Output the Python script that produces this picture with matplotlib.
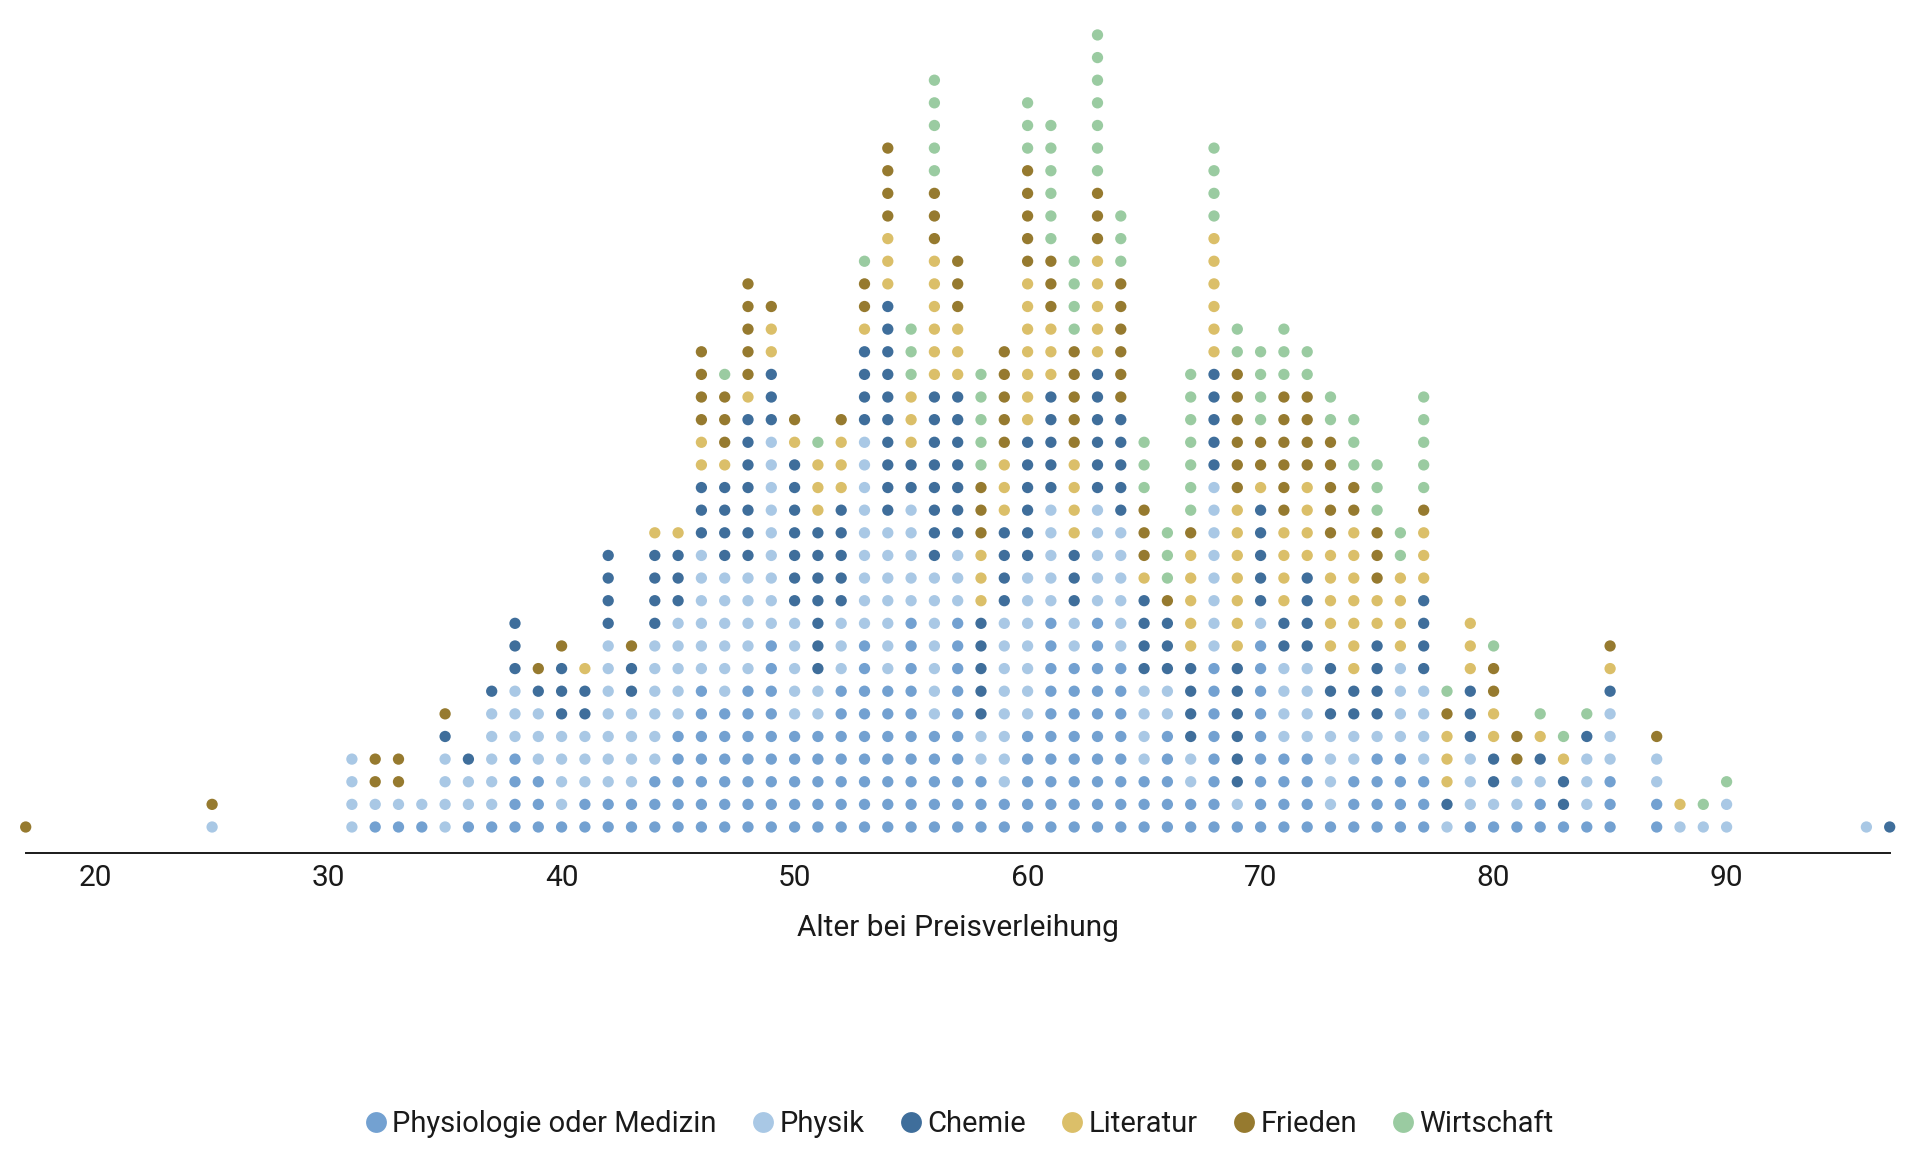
import matplotlib
matplotlib.use("Agg")
import matplotlib.pyplot as plt
from matplotlib.lines import Line2D

# ---------------- data ----------------
categories = ["Physiologie oder Medizin", "Physik", "Chemie", "Literatur", "Frieden", "Wirtschaft"]
ages = [17, 25, 31, 32, 33, 34, 35, 36, 37, 38, 39, 40, 41, 42, 43, 44, 45,
        46, 47, 48, 49, 50, 51, 52, 53, 54, 55, 56, 57, 58, 59, 60, 61,
        62, 63, 64, 65, 66, 67, 68, 69, 70, 71, 72, 73, 74, 75, 76, 77,
        78, 79, 80, 81, 82, 83, 84, 85, 87, 88, 89, 90, 96, 97]
medizin = [0, 0, 0, 1, 1, 1, 0, 1, 1, 4, 3, 1, 2, 2, 2, 3, 5,
           7, 6, 7, 9, 5, 5, 7, 9, 7, 10, 5, 10, 3, 2, 5, 10,
           8, 10, 8, 3, 5, 2, 8, 1, 9, 4, 4, 1, 3, 4, 4, 3,
           0, 1, 1, 1, 2, 1, 1, 3, 2, 0, 0, 0, 0, 0]
physik = [0, 1, 4, 1, 1, 1, 4, 2, 5, 3, 3, 4, 3, 7, 4, 6, 5,
          6, 6, 5, 9, 5, 2, 3, 9, 7, 5, 7, 3, 2, 8, 7, 5,
          2, 5, 6, 4, 2, 2, 8, 1, 1, 4, 4, 4, 2, 1, 4, 4,
          1, 3, 1, 2, 1, 0, 3, 3, 2, 1, 1, 2, 1, 0]
chemie = [0, 0, 0, 0, 0, 0, 1, 1, 1, 3, 1, 3, 2, 4, 2, 4, 3,
          3, 4, 7, 3, 7, 7, 5, 4, 10, 2, 8, 7, 5, 4, 6, 5,
          3, 6, 5, 4, 3, 4, 5, 6, 5, 2, 4, 3, 2, 4, 0, 4,
          1, 3, 2, 0, 1, 2, 1, 1, 0, 0, 0, 0, 0, 1]
literatur = [0, 0, 0, 0, 0, 0, 0, 0, 0, 0, 0, 0, 1, 0, 0, 1, 1,
             2, 1, 1, 2, 1, 3, 3, 1, 3, 3, 6, 3, 3, 3, 7, 3,
             4, 5, 0, 1, 0, 5, 6, 7, 1, 4, 4, 5, 7, 2, 4, 3,
             3, 3, 2, 0, 1, 1, 0, 1, 0, 1, 0, 0, 0, 0]
frieden = [1, 1, 0, 2, 2, 0, 1, 0, 0, 0, 1, 1, 0, 0, 1, 0, 0,
           4, 3, 5, 1, 1, 0, 1, 2, 4, 0, 3, 3, 3, 5, 5, 3,
           5, 3, 6, 3, 1, 1, 0, 6, 2, 6, 4, 5, 2, 3, 0, 1,
           1, 0, 2, 2, 0, 0, 0, 1, 1, 0, 0, 0, 0, 0]
wirtschaft = [0, 0, 0, 0, 0, 0, 0, 0, 0, 0, 0, 0, 0, 0, 0, 0, 0,
              0, 1, 0, 0, 0, 1, 0, 1, 0, 3, 5, 0, 5, 0, 3, 6,
              4, 7, 3, 3, 3, 7, 4, 2, 4, 3, 2, 2, 3, 3, 2, 5,
              1, 0, 1, 0, 1, 1, 1, 0, 0, 0, 1, 1, 0, 0]
x_ticks = [20, 30, 40, 50, 60, 70, 80, 90]
x_label = "Alter bei Preisverleihung"

# ---------------- style ----------------
colors = ["#73a1d1", "#a9c8e5", "#3f6e9b", "#dbbf69", "#967a2f", "#9acba1"]
text_color = "#1a1a1a"
plt.rcParams["font.family"] = ["Roboto", "DejaVu Sans"]
fs_axis = 21.5
fs_legend = 21

W, H = 1918, 1154
fig = plt.figure(figsize=(W / 100, H / 100), dpi=100)
x_left, x_right = 25.7, 1889.7
y_axis, y_top = 852.6, 20.0
row0, row_step = 827.0, 22.63
ax = fig.add_axes([x_left / W, 1 - y_axis / H, (x_right - x_left) / W, (y_axis - y_top) / H])

series = [medizin, physik, chemie, literatur, frieden, wirtschaft]
xs, ys, cs = [], [], []
for i, age in enumerate(ages):
    level = 0
    for s, col in zip(series, colors):
        for _ in range(s[i]):
            xs.append(age)
            ys.append(level)
            cs.append(col)
            level += 1

ax.scatter(xs, ys, s=66, c=cs, linewidths=0, clip_on=False, zorder=3)

ax.set_xlim(17, 97)
ax.set_ylim(-(y_axis - row0) / row_step, (row0 - y_top) / row_step)
for sp in ["top", "left", "right"]:
    ax.spines[sp].set_visible(False)
ax.spines["bottom"].set_linewidth(1.4)
ax.spines["bottom"].set_color(text_color)
ax.set_yticks([])
ax.set_xticks(x_ticks)
ax.tick_params(axis="x", length=0, pad=8.5, labelsize=fs_axis, labelcolor=text_color)
ax.set_xlabel(x_label, fontsize=fs_axis, color=text_color, labelpad=15.5)

handles = [Line2D([], [], marker="o", linestyle="none", markersize=15,
                  markerfacecolor=c, markeredgewidth=0) for c in colors]
fig.legend(handles, categories, loc="center", bbox_to_anchor=(0.5, 1 - 1124 / H),
           ncol=6, frameon=False, handletextpad=0.15, columnspacing=1.2,
           handlelength=0.8, fontsize=fs_legend, labelcolor=text_color)

fig.savefig("out.png", dpi=100)
